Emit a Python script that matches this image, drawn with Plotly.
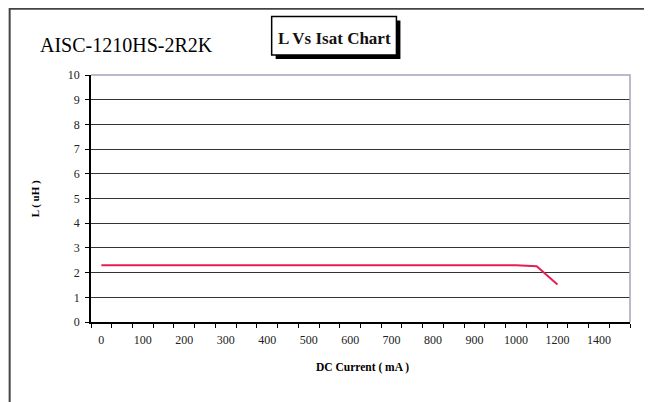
import plotly.graph_objects as go

# ---- data ----
current_cats = ["0", "50", "100", "150", "200", "250", "300", "350", "400", "450",
                "500", "550", "600", "650", "700", "750", "800", "850", "900", "950",
                "1000", "1100", "1200", "1300", "1400", "1500"]
inductance = [2.3, 2.3, 2.3, 2.3, 2.3, 2.3, 2.3, 2.3, 2.3, 2.3,
              2.3, 2.3, 2.3, 2.3, 2.3, 2.3, 2.3, 2.3, 2.3, 2.3,
              2.3, 2.26, 1.52, None, None, None]
x_tick_text = ["0", "", "100", "", "200", "", "300", "", "400", "",
               "500", "", "600", "", "700", "", "800", "", "900", "",
               "1000", "", "1200", "", "1400", ""]
y_ticks = [0, 1, 2, 3, 4, 5, 6, 7, 8, 9, 10]

W, H = 652, 402
OFF = 8  # page body margin
L, R, T, B = 90.5 - OFF, 630.5 - OFF, 75 - OFF, 322.5 - OFF
PW, PH = R - L, B - T


def px(x):
    return (x - OFF - L) / PW


def py(y):
    return (B - (y - OFF)) / PH


fig = go.Figure()
fig.add_trace(go.Scatter(
    x=current_cats, y=inductance, mode="lines",
    line=dict(color="#e3204f", width=2), connectgaps=False,
    showlegend=False, hoverinfo="x+y"))

serif = "Times New Roman, Liberation Serif, Times, serif"

fig.update_layout(
    width=W, height=H,
    margin=dict(l=L, r=W - R, t=T, b=H - B),
    paper_bgcolor="white", plot_bgcolor="white",
    font=dict(family=serif, color="black", size=12),
    xaxis=dict(
        type="category", categoryorder="array", categoryarray=current_cats,
        tickmode="array", tickvals=current_cats, ticktext=x_tick_text,
        tickson="boundaries", range=[-0.5, len(current_cats) - 0.5],
        showgrid=False, zeroline=False,
        showline=True, linecolor="black", linewidth=1.5,
        ticks="outside", ticklen=4, tickcolor="black", tickwidth=1.2,
        tickfont=dict(family=serif, size=12, color="#222"),
        tickangle=0, ticklabelstandoff=6,
    ),
    yaxis=dict(
        range=[0, 10], tickmode="array", tickvals=y_ticks,
        ticktext=[str(v) for v in y_ticks],
        showgrid=True, gridcolor="#333333", gridwidth=1.3,
        zeroline=False,
        showline=True, linecolor="black", linewidth=1.5,
        ticks="outside", ticklen=4, tickcolor="black", tickwidth=1.2,
        tickfont=dict(family=serif, size=12, color="#222"),
        ticklabelstandoff=3,
    ),
)

shapes = []
# outer frame (left and top edges)
shapes.append(dict(type="path", xref="paper", yref="paper",
                   path=f"M {px(9)} {py(H + 10)} L {px(9)} {py(8.5)} L {px(W + 10)} {py(8.5)}",
                   line=dict(color="#444444", width=2)))
# plot area top and right border (light)
shapes.append(dict(type="path", xref="paper", yref="paper",
                   path="M 0 1 L 1 1 L 1 0",
                   line=dict(color="#a4a4b8", width=1.5), layer="above"))
# title box shadow
shapes.append(dict(type="rect", xref="paper", yref="paper",
                   x0=px(275.5), x1=px(400.5), y0=py(59), y1=py(20.5),
                   fillcolor="black", line=dict(width=0)))
# title box
shapes.append(dict(type="rect", xref="paper", yref="paper",
                   x0=px(271.5), x1=px(396.5), y0=py(55), y1=py(16.5),
                   fillcolor="white", line=dict(color="black", width=1.5)))
fig.update_layout(shapes=shapes)

ann = [
    dict(text="<b>L Vs Isat Chart</b>", xref="paper", yref="paper", x=px(334), y=py(38),
         showarrow=False, xanchor="center", yanchor="middle",
         font=dict(family=serif, size=17, color="#111")),
    dict(text="AISC-1210HS-2R2K", xref="paper", yref="paper", x=px(37), y=py(45),
         showarrow=False, xanchor="left", yanchor="middle",
         font=dict(family=serif, size=20, color="black")),
    dict(text="<b>L ( uH )</b>", xref="paper", yref="paper", x=px(35), y=py(199),
         showarrow=False, xanchor="center", yanchor="middle", textangle=-90,
         font=dict(family=serif, size=11, color="black")),
    dict(text="<b>DC Current ( mA )</b>", xref="paper", yref="paper", x=px(363), y=py(368),
         showarrow=False, xanchor="center", yanchor="middle",
         font=dict(family=serif, size=11.5, color="black")),
]
fig.update_layout(annotations=ann)

fig.write_html("out.html")
